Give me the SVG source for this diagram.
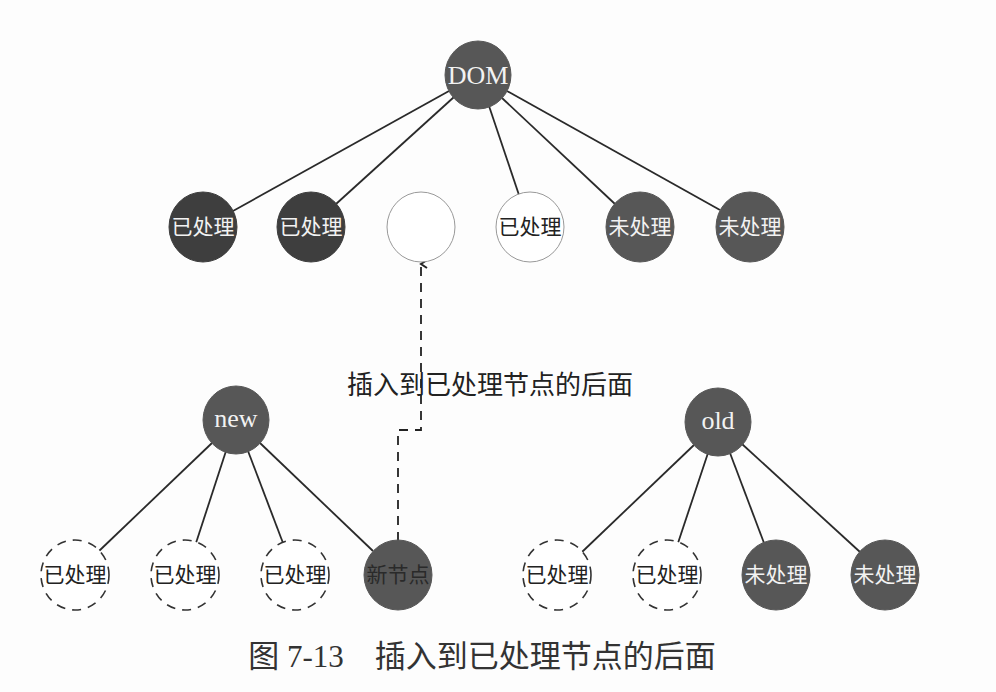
<svg xmlns="http://www.w3.org/2000/svg" width="996" height="692" viewBox="0 0 996 692">
<defs>
<style>
.dark{fill:#3e3e3e;stroke:#3e3e3e}
.mid{fill:#575757;stroke:#575757}
.empty{fill:#fff;stroke:#999;stroke-width:1}
.dash{fill:#fff;stroke:#333;stroke-width:1.6;stroke-dasharray:9 7}
.lbl{font-family:"Liberation Serif","Noto Sans CJK SC",serif;font-size:21px;text-anchor:middle;dominant-baseline:central}
.w{fill:#f2f2f2}
.b{fill:#222}
.edge{stroke:#2a2a2a;stroke-width:1.8;fill:none}
.big{font-family:"Liberation Serif","Noto Sans CJK SC",serif;font-size:26px;text-anchor:middle;dominant-baseline:central}
</style>
<marker id="arr" viewBox="0 0 10 10" refX="5" refY="2" markerWidth="10" markerHeight="10" markerUnits="userSpaceOnUse" orient="auto-start-reverse">
<path d="M1,8 L5,2 L9,8" fill="none" stroke="#222" stroke-width="2"/>
</marker>
</defs>
<rect width="996" height="692" fill="#fdfdfd"/>
<g id="connectors">
<line class="edge" x1="449" y1="91" x2="233" y2="211"/>
<line class="edge" x1="454" y1="97" x2="336" y2="204"/>
<line class="edge" x1="489" y1="106" x2="519" y2="195"/>
<line class="edge" x1="502" y1="98" x2="615" y2="204"/>
<line class="edge" x1="507" y1="91" x2="720" y2="210"/>
<line class="edge" x1="212" y1="443" x2="99" y2="551"/>
<line class="edge" x1="226" y1="451" x2="196" y2="543"/>
<line class="edge" x1="248" y1="451" x2="283" y2="543"/>
<line class="edge" x1="260" y1="443" x2="373" y2="551"/>
<line class="edge" x1="694" y1="445" x2="582" y2="552"/>
<line class="edge" x1="708" y1="453" x2="678" y2="543"/>
<line class="edge" x1="730" y1="453" x2="764" y2="543"/>
<line class="edge" x1="742" y1="444" x2="860" y2="552"/>
<path d="M398,541 V430 H421 V264" fill="none" stroke="#222" stroke-width="1.8" stroke-dasharray="9 7" marker-end="url(#arr)"/>
</g>
<g id="insert-label"><text x="490" y="385" class="big" fill="#222" font-size="27">插入到已处理节点的后面</text></g>
<g id="dom"><ellipse class="mid" cx="478" cy="75" rx="33" ry="34"/><text class="big w" x="478" y="75">DOM</text></g>
<g id="d1"><ellipse class="dark" cx="203" cy="227" rx="34" ry="35"/><text class="lbl w" x="203" y="227">已处理</text></g>
<g id="d2"><ellipse class="dark" cx="311" cy="227" rx="34" ry="35"/><text class="lbl w" x="311" y="227">已处理</text></g>
<g id="d3"><ellipse class="empty" cx="421" cy="227" rx="34" ry="35"/></g>
<g id="d4"><ellipse class="empty" cx="530" cy="227" rx="34" ry="35"/><text class="lbl b" x="530" y="227">已处理</text></g>
<g id="d5"><ellipse class="mid" cx="640" cy="227" rx="34" ry="35"/><text class="lbl w" x="640" y="227">未处理</text></g>
<g id="d6"><ellipse class="mid" cx="750" cy="227" rx="34" ry="35"/><text class="lbl w" x="750" y="227">未处理</text></g>
<g id="new"><ellipse class="mid" cx="236" cy="420" rx="33" ry="34"/><text class="big w" x="236" y="418">new</text></g>
<g id="n1"><ellipse class="dash" cx="75" cy="575" rx="34" ry="35"/><text class="lbl b" x="75" y="575">已处理</text></g>
<g id="n2"><ellipse class="dash" cx="185" cy="575" rx="34" ry="35"/><text class="lbl b" x="185" y="575">已处理</text></g>
<g id="n3"><ellipse class="dash" cx="295" cy="575" rx="34" ry="35"/><text class="lbl b" x="295" y="575">已处理</text></g>
<g id="n4"><ellipse class="mid" cx="398" cy="575" rx="34" ry="35"/><text class="lbl" fill="#2a2a2a" x="398" y="575">新节点</text></g>
<g id="old"><ellipse class="mid" cx="718" cy="422" rx="33" ry="34"/><text class="big w" x="718" y="420">old</text></g>
<g id="o1"><ellipse class="dash" cx="557" cy="575" rx="34" ry="35"/><text class="lbl b" x="557" y="575">已处理</text></g>
<g id="o2"><ellipse class="dash" cx="667" cy="575" rx="34" ry="35"/><text class="lbl b" x="667" y="575">已处理</text></g>
<g id="o3"><ellipse class="mid" cx="776" cy="575" rx="34" ry="35"/><text class="lbl w" x="776" y="575">未处理</text></g>
<g id="o4"><ellipse class="mid" cx="885" cy="575" rx="34" ry="35"/><text class="lbl w" x="885" y="575">未处理</text></g>
<g id="caption"><text x="482" y="656" font-family="Liberation Serif,'Noto Sans CJK SC',serif" font-size="31" fill="#333" text-anchor="middle" dominant-baseline="central" xml:space="preserve">图 7-13    插入到已处理节点的后面</text></g>
</svg>
